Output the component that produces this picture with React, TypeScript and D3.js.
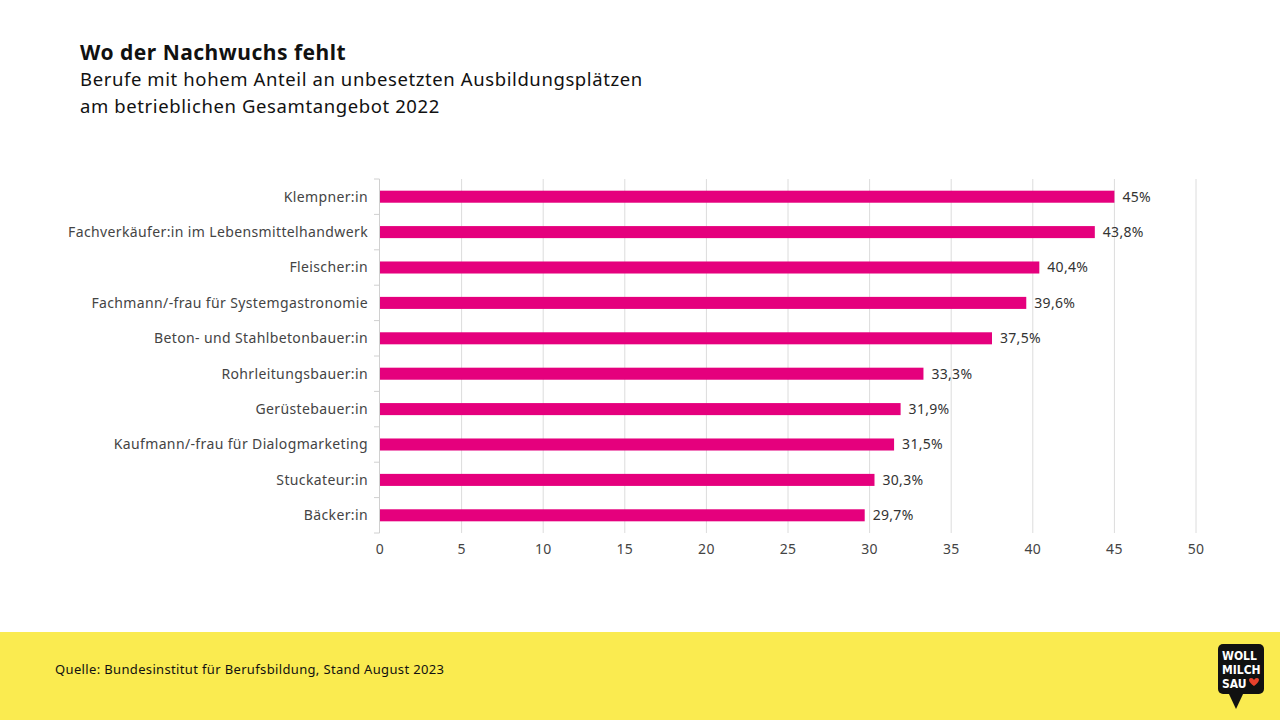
import * as d3 from "d3";
import * as React from "react";

const categories = [
  "Klempner:in",
  "Fachverkäufer:in im Lebensmittelhandwerk",
  "Fleischer:in",
  "Fachmann/-frau für Systemgastronomie",
  "Beton- und Stahlbetonbauer:in",
  "Rohrleitungsbauer:in",
  "Gerüstebauer:in",
  "Kaufmann/-frau für Dialogmarketing",
  "Stuckateur:in",
  "Bäcker:in",
];
const values = [45, 43.8, 40.4, 39.6, 37.5, 33.3, 31.9, 31.5, 30.3, 29.7];
const xTicks = [0, 5, 10, 15, 20, 25, 30, 35, 40, 45, 50];

const title = "Wo der Nachwuchs fehlt";
const subtitle = [
  "Berufe mit hohem Anteil an unbesetzten Ausbildungsplätzen",
  "am betrieblichen Gesamtangebot 2022",
];
const source = "Quelle: Bundesinstitut für Berufsbildung, Stand August 2023";

const font = "'Noto Sans', sans-serif";

export default function App() {
  const width = 1280;
  const height = 720;
  const marginLeft = 380;
  const marginRight = 84;
  const marginTop = 179;
  const plotBottom = 533;

  const x = d3.scaleLinear([0, 50], [marginLeft, width - marginRight]);
  const y = d3
    .scaleBand<string>()
    .domain(categories)
    .range([marginTop, plotBottom])
    .paddingInner(0.66)
    .paddingOuter(0.33);

  const fmt = (v: number) => String(v).replace(".", ",") + "%";
  const step = y.step();
  const bounds = d3.range(categories.length + 1).map((i) => marginTop + i * step);

  return (
    <svg
      width={width}
      height={height}
      viewBox={`0 0 ${width} ${height}`}
      style={{ position: "absolute", left: 0, top: 0, background: "#fff" }}
      fontFamily={font}
    >
      <text x={80} y={60} fontSize={21} fontWeight={700} letterSpacing={0.5} fill="#111">
        {title}
      </text>
      {subtitle.map((s, i) => (
        <text key={i} x={80} y={86 + i * 27} fontSize={18.5} letterSpacing={0.6} fill="#111">
          {s}
        </text>
      ))}

      {/* grid */}
      {xTicks.slice(1).map((t) => (
        <line
          key={t}
          x1={x(t)}
          x2={x(t)}
          y1={marginTop}
          y2={plotBottom}
          stroke="#dcdcdc"
          strokeWidth={1}
        />
      ))}
      {/* y axis */}
      <line x1={x(0) - 0.5} x2={x(0) - 0.5} y1={marginTop} y2={plotBottom} stroke="#d0d0d0" />
      {bounds.map((b, i) => (
        <line key={i} x1={x(0) - 6} x2={x(0) - 0.5} y1={b} y2={b} stroke="#d0d0d0" />
      ))}

      {categories.map((c, i) => {
        const yy = y(c) ?? 0;
        const cy = yy + y.bandwidth() / 2;
        return (
          <g key={c}>
            <rect
              x={x(0)}
              y={yy}
              width={x(values[i]) - x(0)}
              height={y.bandwidth()}
              fill="#e5007d"
            />
            <text
              x={x(0) - 12}
              y={cy}
              dy="0.35em"
              textAnchor="end"
              fontSize={14}
              letterSpacing={0.37}
              fill="#444"
            >
              {c}
            </text>
            <text
              x={x(values[i]) + 8}
              y={cy}
              dy="0.35em"
              fontSize={14}
              letterSpacing={0.3}
              fill="#333"
            >
              {fmt(values[i])}
            </text>
          </g>
        );
      })}

      {xTicks.map((t) => (
        <text key={t} x={x(t)} y={554} textAnchor="middle" fontSize={14} letterSpacing={0.3} fill="#444">
          {t}
        </text>
      ))}

      {/* footer */}
      <rect x={0} y={632} width={width} height={88} fill="#faeb50" />
      <text x={55} y={674} fontSize={13} letterSpacing={0.35} fill="#111">
        {source}
      </text>

      {/* logo */}
      <g>
        <rect x={1218} y={644} width={46} height={50} rx={5} fill="#111" />
        <path d="M1228,692 L1236,709 L1244,692 Z" fill="#111" />
        <text x={1222} y={660} fontSize={12} fontWeight={900} fill="#fff" fontFamily="'DejaVu Sans Condensed', 'Liberation Sans Narrow', sans-serif">
          WOLL
        </text>
        <text x={1222} y={674} fontSize={12} fontWeight={900} fill="#fff" fontFamily="'DejaVu Sans Condensed', 'Liberation Sans Narrow', sans-serif">
          MILCH
        </text>
        <text x={1222} y={688} fontSize={12} fontWeight={900} fill="#fff" fontFamily="'DejaVu Sans Condensed', 'Liberation Sans Narrow', sans-serif">
          SAU
        </text>
        <path
          d="M1254,686 C1248,682 1248,678 1251,678 C1253,678 1254,680 1254,680 C1254,680 1255,678 1257,678 C1260,678 1260,682 1254,686 Z"
          fill="#e8412c"
        />
      </g>
    </svg>
  );
}
